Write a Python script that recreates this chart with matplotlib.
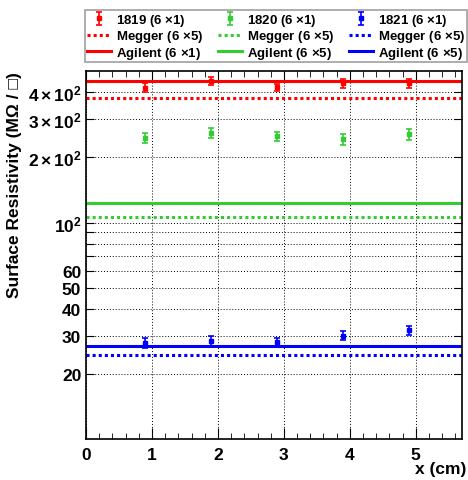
import numpy as np
import matplotlib
matplotlib.use('Agg')
import matplotlib.pyplot as plt
from matplotlib.ticker import FixedLocator, FixedFormatter, MultipleLocator, NullLocator

plt.rcParams['font.family'] = ['Liberation Sans', 'DejaVu Sans']
plt.rcParams['font.weight'] = 'bold'
plt.rcParams['mathtext.fontset'] = 'custom'
plt.rcParams['mathtext.rm'] = 'Liberation Sans:bold'
plt.rcParams['mathtext.it'] = 'Liberation Sans:bold'
plt.rcParams['mathtext.bf'] = 'Liberation Sans:bold'

# measurement positions (cm)
x_pos = [0.9, 1.9, 2.9, 3.9, 4.9]

# 1819 (6 x 1)
r1819 = [420, 450, 421, 440, 440]
e1819 = [20, 20, 15, 20, 20]
# 1820 (6 x 1)
r1820 = [245, 260, 250, 242, 255]
e1820 = [13, 14, 13, 13, 14]
# 1821 (6 x 1)
r1821 = [27.8, 28.4, 28.1, 30.0, 31.9]
e1821 = [1.4, 1.4, 1.3, 1.4, 1.5]

megger = {'red': 375, 'green': 106.5, 'blue': 24.5}
agilent = {'red': 452, 'green': 123.5, 'blue': 26.9}

names = ['1819', '1820', '1821']
colors = ['#ff0000', '#33cc33', '#0000ff']
keys = ['red', 'green', 'blue']
agilent_labels = ['Agilent (6 $\\times$1)', 'Agilent (6 $\\times$5)', 'Agilent (6 $\\times$5)']

ytick_vals = [20, 30, 40, 50, 60, 70, 80, 90, 100, 200, 300, 400]
ytick_labels = ['20', '30', '40', '50', '60', '', '', '', '$10^{2}$',
                '$2\\times10^{2}$', '$3\\times10^{2}$', '$4\\times10^{2}$']

fig = plt.figure(figsize=(4.68, 4.81), dpi=100)
ax = fig.add_axes([0.184, 0.085, 0.803, 0.765])

handles = []
for name, c, k, x_lab, vals, errs in zip(names, colors, keys, agilent_labels,
                                         [r1819, r1820, r1821], [e1819, e1820, e1821]):
    h1 = ax.errorbar(x_pos, vals, yerr=errs, fmt='s', ms=2.2, color=c, ecolor=c,
                     elinewidth=1.2, capsize=2, capthick=1.2,
                     label=name + ' (6 $\\times$1)')
    h2 = ax.axhline(megger[k], color=c, lw=2.2, ls=(0, (1, 1)),
                    label='Megger (6 $\\times$5)')
    h3 = ax.axhline(agilent[k], color=c, lw=2.2, label=x_lab)
    handles += [h1, h2, h3]

ax.set_yscale('log')
ax.set_xlim(0, 5.7)
ax.set_ylim(10, 500)
ax.yaxis.set_major_locator(FixedLocator(ytick_vals))
ax.yaxis.set_major_formatter(FixedFormatter(ytick_labels))
ax.yaxis.set_minor_locator(NullLocator())
ax.xaxis.set_major_locator(MultipleLocator(1))
ax.xaxis.set_minor_locator(MultipleLocator(0.2))

ax.grid(True, which='major', color='black', ls=(0, (1, 2)), lw=0.7)
ax.tick_params(axis='both', which='both', direction='in', top=True, right=True,
               labelsize=12.5)
ax.tick_params(axis='x', which='major', length=8, pad=6)
ax.tick_params(axis='x', which='minor', length=4)
ax.tick_params(axis='y', which='major', length=6)
for lab in ax.get_xticklabels() + ax.get_yticklabels():
    lab.set_fontweight('bold')
for s in ax.spines.values():
    s.set_linewidth(1.2)

ax.set_xlabel('x (cm)', fontsize=12.5, fontweight='bold', loc='right')
ax.xaxis.set_label_coords(1.013, -0.06)
ax.set_ylabel('Surface Resistivity (M\u03a9 / \u25a1)', fontsize=12.5,
              fontweight='bold', loc='top', labelpad=4)

leg = fig.legend(handles=handles, ncol=3, loc='upper left',
                 bbox_to_anchor=(85 / 468, 1 - 60 / 481, 382 / 468, 49 / 481),
                 mode='expand', frameon=True, fancybox=False,
                 edgecolor='#888888', handlelength=1.8, handletextpad=0.4,
                 borderaxespad=0, labelspacing=0.02, borderpad=0.15,
                 columnspacing=0.6, prop={'weight': 'bold', 'size': 9.5})
leg.get_frame().set_linewidth(1.2)

fig.savefig('out.png', dpi=100)
